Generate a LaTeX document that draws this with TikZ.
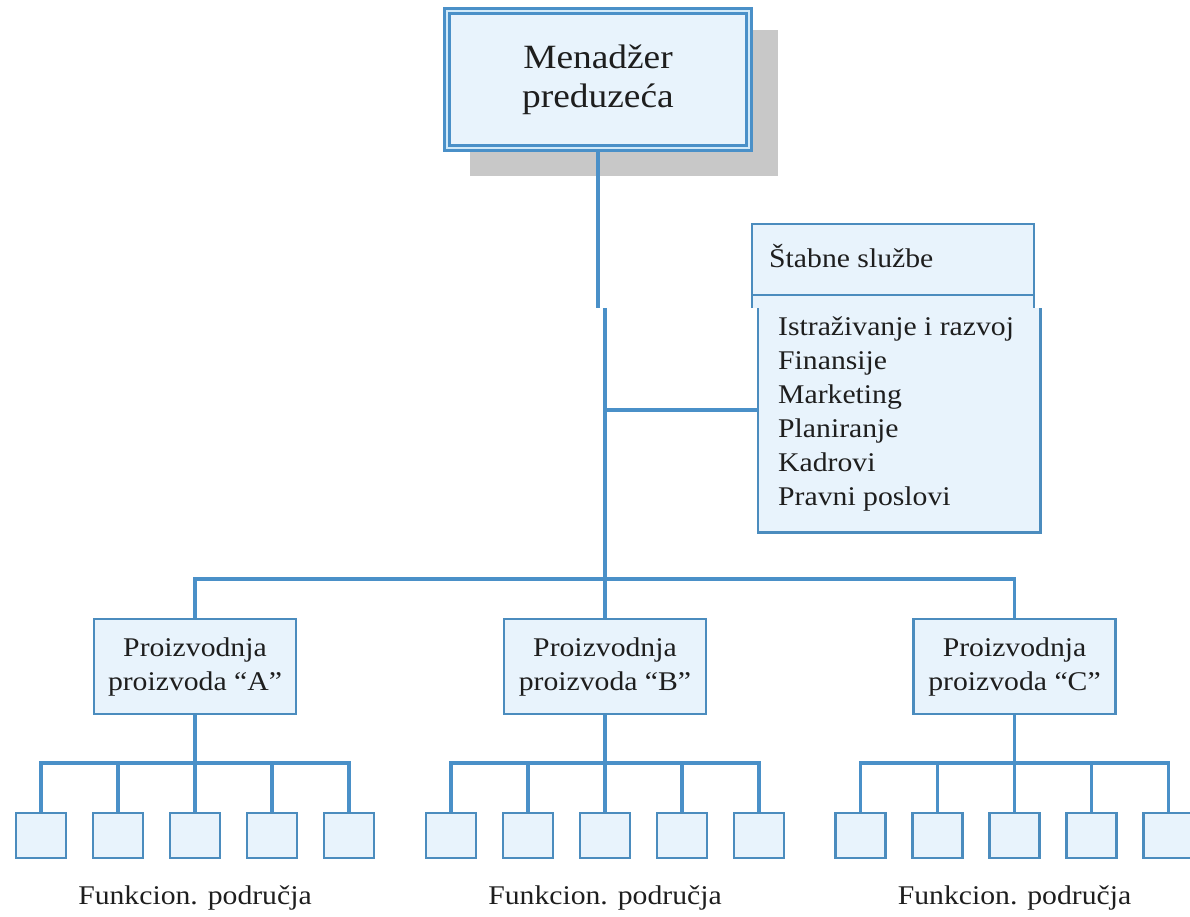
\documentclass[tikz,border=0pt]{standalone}
\usepackage{fontspec}
\setmainfont{Liberation Serif}[FakeStretch=1.1]
\definecolor{lineblue}{HTML}{4A90C8}
\definecolor{boxedge}{HTML}{4B8CBE}
\definecolor{boxfill}{HTML}{E8F3FC}
\definecolor{gapfill}{HTML}{D2EAF9}
\definecolor{shadowgray}{HTML}{C8C8C8}
\definecolor{ink}{HTML}{1E1E1E}

\begin{document}
\begin{tikzpicture}[x=1pt,y=-1pt,
  link/.style={draw=lineblue, line width=3.2pt},
  edge/.style={draw=boxedge, line width=2.8pt},
  prod/.style={edge, fill=boxfill, minimum width=202pt, minimum height=95pt,
    inner sep=0pt, align=center, text=ink, font=\fontsize{27}{34}\selectfont},
  unitbox/.style={edge, fill=boxfill, minimum width=50pt, minimum height=45pt, inner sep=0pt},
  fieldtext/.style={text=ink, inner sep=0pt, font=\fontsize{27}{34}\selectfont},
  boss/.style={draw=lineblue, line width=3.2pt, double=gapfill, double distance=1.8pt,
    fill=boxfill, minimum width=302pt, minimum height=137pt, inner sep=0pt,
    align=center, text=ink, font=\fontsize{34}{39}\selectfont}]
\useasboundingbox (0,0) rectangle (1190,917);

% manager box with its drop shadow
\fill[shadowgray] (470,30) rectangle (778,176);
\node[boss] (top) at (598,79.5) {Menadžer\\preduzeća};

% staff services: heading part and list part
\fill[boxfill] (752,224) rectangle (1034,308);
\draw[edge] (752,308) -- (752,224) -- (1034,224) -- (1034,308);
\draw[edge] (752,295) -- (1034,295);
\node[fieldtext, anchor=base west] (stafftitle) at (769,267) {Štabne službe};
\node[fill=boxfill, minimum width=282pt, minimum height=224pt, inner sep=0pt,
  anchor=north west] (staff) at (758,308) {};
\draw[edge] (staff.north west) -- (staff.south west) -- (staff.south east) -- (staff.north east);
\foreach \t [count=\i from 0] in {Istraživanje i razvoj, Finansije, Marketing,
    Planiranje, Kadrovi, Pravni poslovi}
  \node[fieldtext, anchor=base west] (item\i) at (778,{335+34*\i}) {\t};

% product divisions with their functional areas
\foreach \g/\cx in {A/195, B/605, C/1014.5} {
  \node[prod] (\g) at (\cx,666.5) {Proizvodnja\\proizvoda “\g”};
  \foreach \k in {1,...,5}
    \node[unitbox] (\g\k) at ({\cx+(\k-3)*77},835.5) {};
  \coordinate (\g bus) at (\cx,763);
  \draw[link] (\g1.north) |- (\g bus) -| (\g5.north);
  \foreach \k in {2,3,4}
    \draw[link] (\g\k.north) -- (\g\k.north |- \g bus);
  \draw[link] (\g.south) -- (\g bus);
  \node[fieldtext, anchor=base] (\g field) at (\cx,904) {Funkcion. područja};
}

% main trunk
\coordinate (cutU) at (598,308);
\coordinate (cutL) at (605,308);
\coordinate (staffjoin) at (605,410);
\coordinate (divbus) at (605,579);
\draw[link] (top.south) -- (cutU);
\draw[link] (cutL) -- (B.north);
\draw[link] (staffjoin) -- (staffjoin -| staff.west);
\draw[link] (A.north) |- (divbus) -| (C.north);
\end{tikzpicture}
\end{document}
